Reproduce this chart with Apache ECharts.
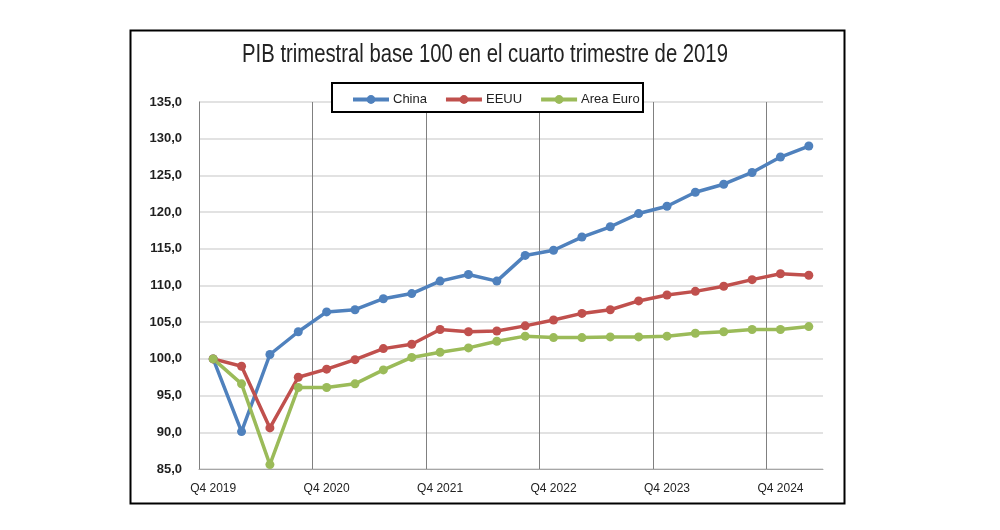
<!DOCTYPE html>
<html>
<head>
<meta charset="utf-8">
<script src="https://cdn.jsdelivr.net/npm/echarts@6/dist/echarts.min.js"></script>
<style>html,body{margin:0;padding:0;background:#fff}#c{width:1000px;height:530px}</style>
</head>
<body>
<div id="c"></div>
<script>
const quarters = ["Q4 2019","Q1 2020","Q2 2020","Q3 2020","Q4 2020","Q1 2021","Q2 2021","Q3 2021","Q4 2021","Q1 2022","Q2 2022","Q3 2022","Q4 2022","Q1 2023","Q2 2023","Q3 2023","Q4 2023","Q1 2024","Q2 2024","Q3 2024","Q4 2024","Q1 2025"];
const china = [100, 90.1, 100.6, 103.7, 106.4, 106.7, 108.2, 108.9, 110.6, 111.5, 110.6, 114.1, 114.8, 116.6, 118.0, 119.8, 120.8, 122.7, 123.8, 125.4, 127.5, 129.0];
const eeuu = [100, 99.0, 90.6, 97.5, 98.6, 99.9, 101.4, 102.0, 104.0, 103.7, 103.8, 104.5, 105.3, 106.2, 106.7, 107.9, 108.7, 109.2, 109.9, 110.8, 111.6, 111.4];
const areaEuro = [100, 96.6, 85.6, 96.1, 96.1, 96.6, 98.5, 100.2, 100.9, 101.5, 102.4, 103.1, 102.9, 102.9, 103.0, 103.0, 103.1, 103.5, 103.7, 104.0, 104.0, 104.4];
const titleText = "PIB trimestral base 100 en el cuarto trimestre de 2019";

const chart = echarts.init(document.getElementById('c'));
const sans = '"Liberation Sans", Arial, sans-serif';
function mk(name, data, color) {
  return {
    name: name, type: 'line', data: data,
    symbol: 'circle', symbolSize: 9,
    lineStyle: { color: color, width: 3.5 },
    itemStyle: { color: color },
    emphasis: { disabled: true },
    animation: false
  };
}
chart.setOption({
  animation: false,
  legend: {
    left: 346, top: 88,
    itemWidth: 36, itemHeight: 11, itemGap: 17,
    lineStyle: { width: 4 },
    textStyle: { fontFamily: sans, fontSize: 13, color: '#222', padding: [0, 0, 0, -1] },
    data: ['China', 'EEUU', 'Area Euro']
  },
  graphic: [
    { type: 'rect', left: 128, top: 28, shape: { width: 714, height: 473 }, style: { fill: 'none', stroke: '#000', lineWidth: 2 }, z: 10 },
    { type: 'rect', left: 331, top: 82, shape: { width: 311, height: 29 }, style: { fill: '#fff', stroke: '#000', lineWidth: 2 }, z: 3 },
    { type: 'text', x: 485, y: 55, scaleX: 0.78, z: 10,
      style: { text: titleText, font: 'normal 26px "Liberation Sans", Arial, sans-serif', fill: '#222', textAlign: 'center', textVerticalAlign: 'middle' } }
  ],
  grid: { left: 199, right: 177, top: 102, bottom: 61 },
  xAxis: {
    type: 'category', data: quarters, boundaryGap: true,
    axisLine: { lineStyle: { color: '#a6a6a6', width: 1 } },
    axisTick: { show: false },
    axisLabel: {
      interval: function (i) { return i % 4 === 0; },
      margin: 14, fontFamily: sans, fontSize: 12, color: '#222'
    },
    splitLine: {
      show: true, showMaxLine: false,
      interval: function (i) { return i % 4 === 0; },
      lineStyle: { color: '#808080', width: 1 }
    }
  },
  yAxis: {
    type: 'value', min: 85, max: 135, interval: 5,
    axisLine: { show: true, lineStyle: { color: '#808080', width: 1 } },
    axisTick: { show: false },
    axisLabel: {
      formatter: function (v) { return v.toFixed(1).replace('.', ','); },
      margin: 17, fontFamily: sans, fontSize: 13, fontWeight: 'bold', color: '#1f1f1f'
    },
    splitLine: { lineStyle: { color: '#d9d9d9', width: 1.5 } }
  },
  series: [
    mk('China', china, '#4F81BD'),
    mk('EEUU', eeuu, '#C0504D'),
    mk('Area Euro', areaEuro, '#9BBB59')
  ]
});
</script>
</body>
</html>
